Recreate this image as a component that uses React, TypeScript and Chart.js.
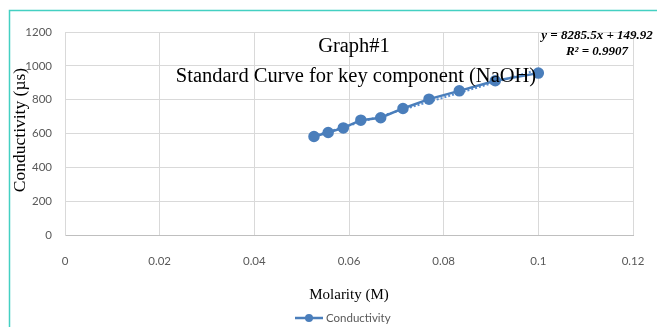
import { useEffect, useRef } from "react";
import { Chart, registerables } from "chart.js";
Chart.register(...registerables);

const molarity = [0.0526, 0.0556, 0.0588, 0.0625, 0.0667, 0.0714, 0.0769, 0.0833, 0.0909, 0.1];
const conductivity = [582, 606, 633, 679, 693, 748, 803, 852, 912, 957];
const trendX = [0.0526, 0.1];
const trendY = [586, 978];
const xTicks = [0, 0.02, 0.04, 0.06, 0.08, 0.1, 0.12];
const yTicks = [0, 200, 400, 600, 800, 1000, 1200];
const titleLines = ["Graph#1", "Standard Curve for key component (NaOH)"];
const equationLines = ["y = 8285.5x + 149.92", "R² = 0.9907"];
const xTitle = "Molarity (M)";
const yTitle = "Conductivity (µs)";
const seriesName = "Conductivity";

const BLUE = "#4a7ebb";
const SERIF = "'Liberation Serif', 'Times New Roman', serif";
const SANS = "Lato, 'Open Sans', sans-serif";

const decorPlugin = {
  id: "decor",
  beforeDraw(chart: any) {
    const ctx = chart.ctx;
    ctx.save();
    ctx.strokeStyle = "#44d0c2";
    ctx.lineWidth = 1.5;
    ctx.beginPath();
    ctx.moveTo(9.5, 400);
    ctx.lineTo(9.5, 10.5);
    ctx.lineTo(700, 10.5);
    ctx.stroke();
    ctx.restore();
  },
  afterDraw(chart: any) {
    const ctx = chart.ctx;
    ctx.save();
    ctx.fillStyle = "#000";
    ctx.textAlign = "center";
    ctx.textBaseline = "middle";
    ctx.font = `20.5px ${SERIF}`;
    ctx.fillText(titleLines[0], 354, 47);
    ctx.fillText(titleLines[1], 356, 77);

    ctx.font = `bold italic 13px ${SERIF}`;
    ctx.fillText(equationLines[0], 597, 36);
    ctx.fillText(equationLines[1], 597, 52);

    ctx.font = `15px ${SERIF}`;
    ctx.fillText(xTitle, 349, 295);

    ctx.save();
    ctx.translate(20, 130);
    ctx.rotate(-Math.PI / 2);
    ctx.font = `17.5px ${SERIF}`;
    ctx.fillText(yTitle, 0, 0);
    ctx.restore();

    // legend
    ctx.strokeStyle = BLUE;
    ctx.lineWidth = 2.5;
    ctx.beginPath();
    ctx.moveTo(295, 318);
    ctx.lineTo(323, 318);
    ctx.stroke();
    ctx.fillStyle = BLUE;
    ctx.beginPath();
    ctx.arc(309, 318, 4, 0, Math.PI * 2);
    ctx.fill();
    ctx.fillStyle = "#595959";
    ctx.textAlign = "left";
    ctx.font = `11.5px ${SANS}`;
    ctx.fillText(seriesName, 326, 318);
    ctx.restore();
  },
};

export default function App() {
  const ref = useRef<HTMLCanvasElement>(null);
  useEffect(() => {
    if (!ref.current) return;
    const chart = new Chart(ref.current, {
      type: "scatter",
      data: {
        datasets: [
          {
            label: seriesName,
            data: molarity.map((x, i) => ({ x, y: conductivity[i] })),
            showLine: true,
            borderColor: BLUE,
            backgroundColor: BLUE,
            borderWidth: 2.5,
            pointRadius: 4.5,
            pointHoverRadius: 4.5,
            order: 1,
          },
          {
            label: "Linear",
            data: trendX.map((x, i) => ({ x, y: trendY[i] })),
            showLine: true,
            borderColor: "#5b8fd0",
            borderWidth: 2,
            borderDash: [2, 2],
            pointRadius: 0,
            order: 2,
          },
        ],
      },
      options: {
        animation: false,
        responsive: true,
        maintainAspectRatio: false,
        layout: { padding: { left: 0, top: 32, right: 24, bottom: 0 } },
        plugins: {
          legend: { display: false },
          tooltip: { enabled: false },
          title: { display: false },
        },
        scales: {
          x: {
            type: "linear",
            min: 0,
            max: 0.12,
            afterBuildTicks: (s: any) => {
              s.ticks = xTicks.map((v) => ({ value: v }));
            },
            afterFit: (s: any) => {
              s.height = 92;
              s.paddingLeft = 0;
              s.paddingRight = 0;
            },
            ticks: {
              padding: 19,
              color: "#595959",
              font: { family: SANS, size: 11.5 },
              callback: (v: any) => String(Number(v)),
            },
            grid: { color: "#d9d9d9", lineWidth: 1, drawTicks: false },
            border: { color: "#bfbfbf", width: 1 },
          },
          y: {
            type: "linear",
            min: 0,
            max: 1200,
            afterBuildTicks: (s: any) => {
              s.ticks = yTicks.map((v) => ({ value: v }));
            },
            afterFit: (s: any) => {
              s.width = 65;
              s.paddingTop = 0;
              s.paddingBottom = 0;
            },
            ticks: {
              padding: 13,
              color: "#595959",
              font: { family: SANS, size: 11.5 },
              callback: (v: any) => String(Number(v)),
            },
            grid: { color: "#d9d9d9", lineWidth: 1, drawTicks: false },
            border: { color: "#d9d9d9", width: 1 },
          },
        },
      },
      plugins: [decorPlugin],
    });
    return () => chart.destroy();
  }, []);
  return (
    <div style={{ position: "fixed", left: 0, top: 0, width: 657, height: 327, background: "#fff" }}>
      <canvas ref={ref} />
    </div>
  );
}
